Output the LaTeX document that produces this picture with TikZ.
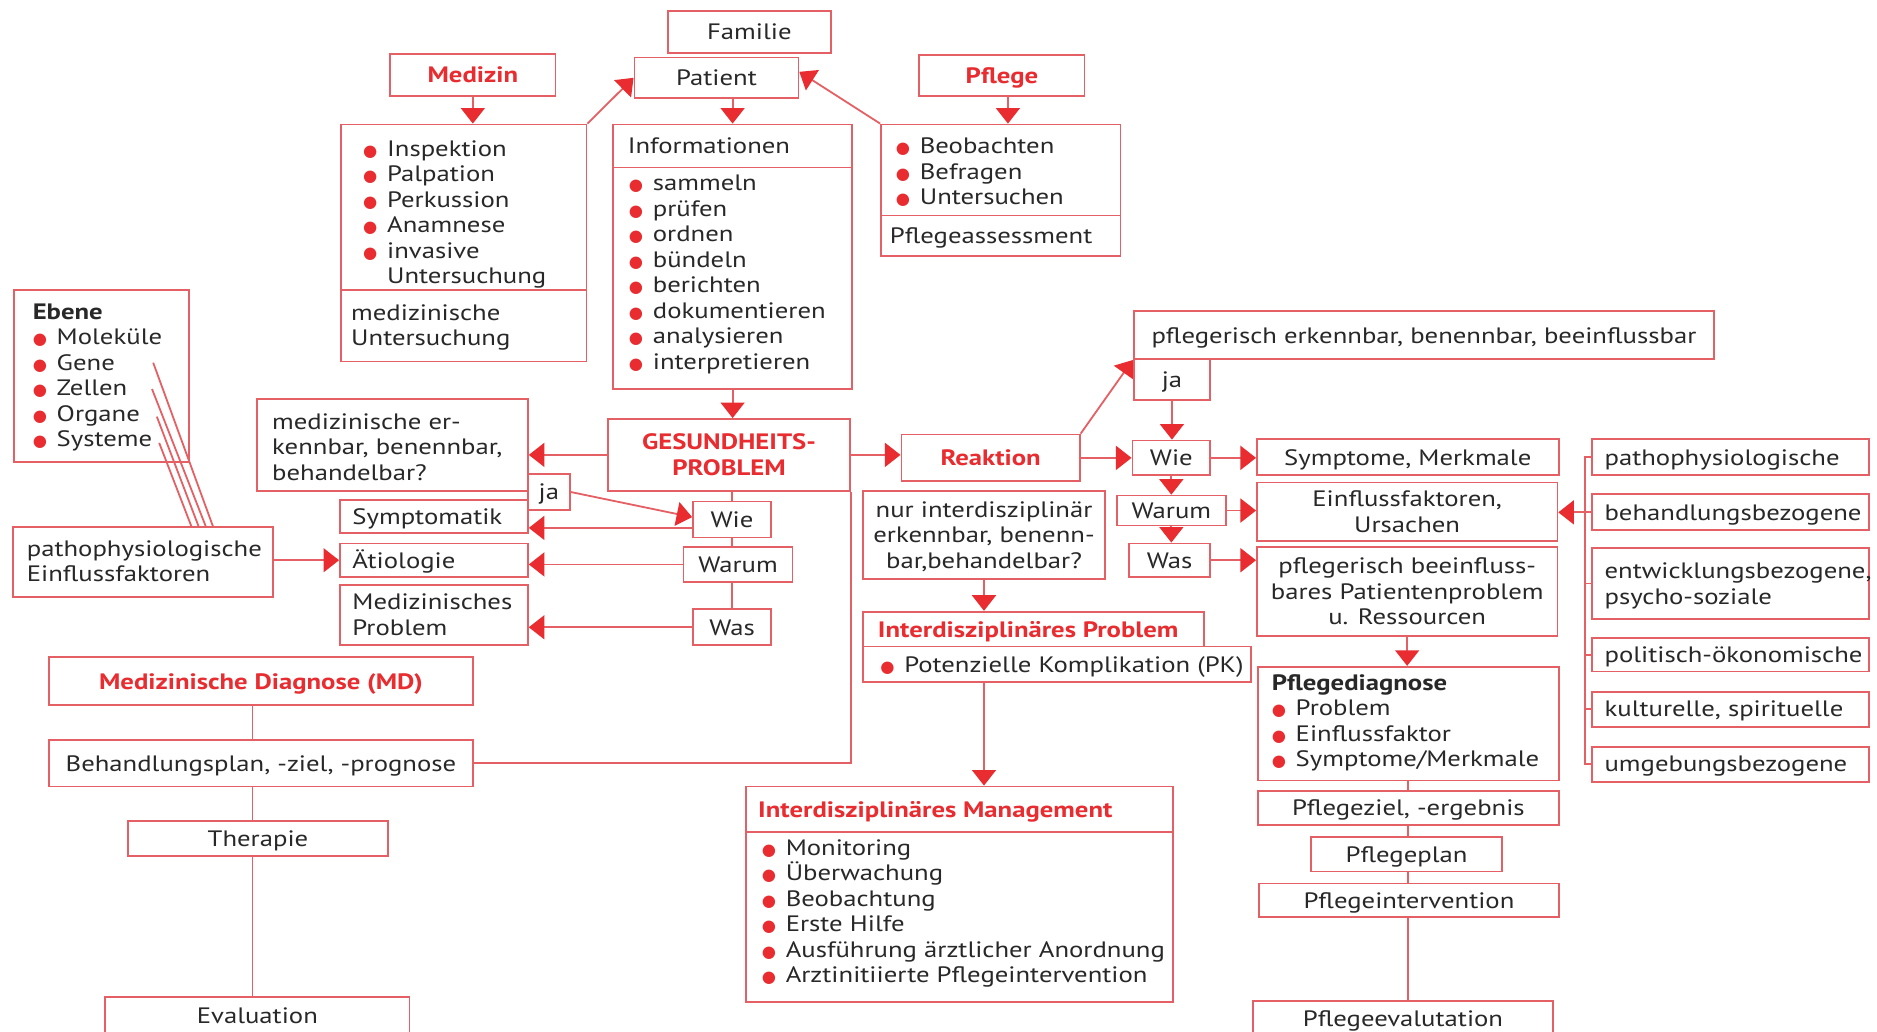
\documentclass[tikz,border=0pt]{standalone}
\usepackage{fontspec}
\setmainfont{PT Sans}[FakeStretch=1.2]
\newfontfamily\dvfont{DejaVu Sans}
\usetikzlibrary{arrows.meta,fit,backgrounds,calc}
\definecolor{pred}{RGB}{232,44,48}
\definecolor{pline}{RGB}{228,96,100}
\definecolor{ptext}{RGB}{40,40,40}
\newcommand\rb{\makebox[10pt][l]{\textcolor{pred}{\dvfont\fontsize{6.8}{6.8}\selectfont ●}}}
\newcommand\rbsp{\hspace*{10pt}}
\tikzset{
 bx/.style={draw=pline, line width=0.75pt, fill=white, inner sep=0pt},
 tt/.style={inner sep=0pt, text=ptext},
 c1/.style={tt, anchor=base, yshift=-3.3pt},
 c2/.style={tt, anchor=base, align=center, yshift=-8.6pt},
 c3/.style={tt, anchor=base, align=center, yshift=-13.95pt},
 tx/.style={tt, anchor=base west, align=left, yshift=-0.75pt},
 rt/.style={text=pred, font=\fontsize{9.3}{10.65}\selectfont\bfseries},
 ar/.style={draw=pline, line width=0.75pt, -{Triangle[length=6.5pt,width=10pt,color=pred]}},
 ln/.style={draw=pline, line width=0.75pt},
}
\begin{document}
\begin{tikzpicture}[x=0.5pt,y=-0.5pt, font=\fontsize{9.3}{10.65}\selectfont]
\useasboundingbox (0,0) rectangle (1568,862);
% top
\node[bx, fit={(558,9)(694,44)}] (fam) {};
\node[c1] (tfam) at (fam.center) {Familie};
\node[bx, fit={(530,48)(667,82)}] (pat) {};
\node[c1] (tpat) at (pat.center) {Patient};
\node[bx, fit={(326,45)(464,80)}] (med) {};
\node[c1, rt] (tmed) at (med.center) {Medizin};
\node[bx, fit={(768,46)(906,80)}] (pfl) {};
\node[c1, rt] (tpfl) at (pfl.center) {Pflege};
\node[bx, fit={(285,104)(490,242)}] (medA) {};
\node[bx, fit={(285,242)(490,302)}] (medB) {};
\node[tx] (tmedA) at (303,235.5) {\rb Inspektion\\\rb Palpation\\\rb Perkussion\\\rb Anamnese\\\rb invasive\\\rbsp Untersuchung};
\node[tx] (tmedB) at (293,287.3) {medizinische\\Untersuchung};
\node[bx, fit={(512,104)(712,140)}] (infA) {};
\node[bx, fit={(512,140)(712,325)}] (infB) {};
\node[tx] (tinfA) at (524,127) {Informationen};
\node[tx] (tinfB) at (525,307.1) {\rb sammeln\\\rb prüfen\\\rb ordnen\\\rb bündeln\\\rb berichten\\\rb dokumentieren\\\rb analysieren\\\rb interpretieren};
\node[bx, fit={(736,104)(936,180)}] (pflA) {};
\node[bx, fit={(736,180)(936,214)}] (pflB) {};
\node[tx] (tpflA) at (748,169.6) {\rb Beobachten\\\rb Befragen\\\rb Untersuchen};
\node[tx] (tpflB) at (743,202) {Pflegeassessment};
% left middle
\node[bx, fit={(12,242)(158,386)}] (eb) {};
\node[tx] (teb) at (27,371.5) {\textbf{Ebene}\\\rb Moleküle\\\rb Gene\\\rb Zellen\\\rb Organe\\\rb Systeme};
\node[bx, fit={(11,440)(228,499)}] (patl) {};
\node[tx] (tpatl) at (22,484.3) {pathophysiologische\\Einflussfaktoren};
\node[bx, fit={(215,333)(441,410)}] (mer) {};
\node[tx] (tmer) at (227,399.6) {medizinische er-\\kennbar, benennbar,\\behandelbar?};
\node[bx, fit={(441,396)(476,426)}] (jal) {};
\node[c1] (tjal) at (jal.center) {ja};
\node[bx, fit={(284,418)(441,445)}] (sym) {};
\node[tx] (tsym) at (294,437) {Symptomatik};
\node[bx, fit={(284,454)(441,482)}] (aet) {};
\node[tx] (taet) at (294,473) {Ätiologie};
\node[bx, fit={(284,489)(441,539)}] (mp) {};
\node[tx] (tmp) at (294,529.3) {Medizinisches\\Problem};
\node[bx, fit={(579,419)(644,449)}] (wiel) {};
\node[c1] (twiel) at (wiel.center) {Wie};
\node[bx, fit={(571,457)(662,486)}] (warl) {};
\node[c1] (twarl) at (warl.center) {Warum};
\node[bx, fit={(579,509)(644,539)}] (wasl) {};
\node[c1] (twasl) at (wasl.center) {Was};
\node[bx, fit={(508,350)(710,410)}] (ges) {};
\node[c2, rt] (tges) at (ges.center) {GESUNDHEITS-\\PROBLEM};
% right middle
\node[bx, fit={(753,363)(902,402)}] (rea) {};
\node[c1, rt] (trea) at (rea.center) {Reaktion};
\node[bx, fit={(947,260)(1432,300)}] (perk) {};
\node[c1] (tperk) at (perk.center) {pflegerisch erkennbar, benennbar, beeinflussbar};
\node[bx, fit={(947,300)(1011,334)}] (jar) {};
\node[c1] (tjar) at (jar.center) {ja};
\node[bx, fit={(946,368)(1011,397)}] (wier) {};
\node[c1] (twier) at (wier.center) {Wie};
\node[bx, fit={(933,414)(1024,439)}] (warr) {};
\node[c1] (twarr) at (warr.center) {Warum};
\node[bx, fit={(943,454)(1011,482)}] (wasr) {};
\node[c1] (twasr) at (wasr.center) {Was};
\node[bx, fit={(1050,367)(1302,397)}] (smm) {};
\node[c1] (tsmm) at (smm.center) {Symptome, Merkmale};
\node[bx, fit={(1050,403)(1301,452)}] (einf) {};
\node[c2] (teinf) at (einf.center) {Einflussfaktoren,\\Ursachen};
\node[bx, fit={(1050,457)(1301,531)}] (pbe) {};
\node[c3] (tpbe) at (pbe.center) {pflegerisch beeinfluss-\\bares Patientenproblem\\u. Ressourcen};
\node[bx, fit={(1051,557)(1302,652)}] (pd) {};
\node[tx] (tpd) at (1062,638.9) {\textbf{Pflegediagnose}\\\rb Problem\\\rb Einflussfaktor\\\rb Symptome/Merkmale};
\node[bx, fit={(1051,661)(1302,689)}] (pz) {};
\node[c1] (tpz) at (pz.center) {Pflegeziel, -ergebnis};
\node[bx, fit={(1095,699)(1255,728)}] (pp) {};
\node[c1] (tpp) at (pp.center) {Pflegeplan};
\node[bx, fit={(1052,738)(1302,766)}] (pi) {};
\node[c1] (tpi) at (pi.center) {Pflegeintervention};
\node[bx, fit={(1047,836)(1297,872)}] (pe) {};
\node[c1] (tpe) at (1172,851) {Pflegeevalutation};
\node[bx, fit={(721,410)(923,484)}] (nur) {};
\node[c3] (tnur) at (nur.center) {nur interdisziplinär\\erkennbar, benenn-\\bar,behandelbar?};
\node[bx, fit={(721,511)(1006,540)}] (ip) {};
\node[tx, rt] (tip) at (733,531) {Interdisziplinäres Problem};
\node[bx, fit={(721,540)(1045,570)}] (pk) {};
\node[tx] (tpk) at (735,560) {\rb Potenzielle Komplikation (PK)};
\node[bx, fit={(623,657)(980,695)}] (ima) {};
\node[tx, rt] (tima) at (633,681) {Interdisziplinäres Management};
\node[bx, fit={(623,695)(980,837)}] (imb) {};
\node[tx] (timb) at (636,819.5) {\rb Monitoring\\\rb Überwachung\\\rb Beobachtung\\\rb Erste Hilfe\\\rb Ausführung ärztlicher Anordnung\\\rb Arztinitiierte Pflegeintervention};
% bottom left
\node[bx, fit={(41,549)(395,589)}] (md) {};
\node[c1, rt] (tmd) at (md.center) {Medizinische Diagnose (MD)};
\node[bx, fit={(41,618)(395,657)}] (bp) {};
\node[c1] (tbp) at (bp.center) {Behandlungsplan, -ziel, -prognose};
\node[bx, fit={(107,686)(324,715)}] (th) {};
\node[c1] (tth) at (th.center) {Therapie};
\node[bx, fit={(88,833)(342,872)}] (ev) {};
\node[c1] (tev) at (215,848) {Evaluation};
% right column
\node[bx, fit={(1330,367)(1561,397)}] (r1) {};
\node[tx] (tr1) at (1340,387) {pathophysiologische};
\node[bx, fit={(1330,413)(1561,443)}] (r2) {};
\node[tx] (tr2) at (1340,433) {behandlungsbezogene};
\node[bx, fit={(1330,458)(1561,517)}] (r3) {};
\node[tx] (tr3) at (1340,503.3) {entwicklungsbezogene,\\psycho-soziale};
\node[bx, fit={(1330,533)(1561,561)}] (r4) {};
\node[tx] (tr4) at (1340,552) {politisch-ökonomische};
\node[bx, fit={(1330,578)(1561,607)}] (r5) {};
\node[tx] (tr5) at (1340,597) {kulturelle, spirituelle};
\node[bx, fit={(1330,624)(1561,653)}] (r6) {};
\node[tx] (tr6) at (1340,643) {umgebungsbezogene};
% Ebene lines
\coordinate (e1) at (128,303); \coordinate (f1) at (178,440);
\coordinate (e2) at (127,325); \coordinate (f2) at (172,440);
\coordinate (e3) at (131,348); \coordinate (f3) at (166,440);
\coordinate (e4) at (133,370); \coordinate (f4) at (160,440);
\draw[ln] (e1) -- (f1) (e2) -- (f2) (e3) -- (f3) (e4) -- (f4);
\begin{pgfonlayer}{background}
\fill[white] (0,0) rectangle (1568,862);
\draw[ar] (med.south) -- (med.south |- medA.north);
\draw[ar] (infA.north |- pat.south) -- (infA.north);
\draw[ar] ([xshift=2.5pt]pfl.south) -- ([xshift=2.5pt]pfl.south |- pflA.north);
\draw[ar] (medA.north east) -- (pat.west);
\draw[ar] (pflA.north west) -- ([yshift=2.5pt]pat.east);
\draw[ar] (infB.south) -- (infB.south |- ges.north);
\draw[ar] (ges.west) -- (ges.west -| mer.east);
\draw[ar] (ges.east) -- (ges.east -| rea.west);
\draw[ar] (jal.east) -- ([yshift=1pt]wiel.west);
\draw[ar] ([yshift=-3.5pt]wiel.west) -- ([yshift=-3.5pt]wiel.west -| sym.east);
\draw[ar] (warl.west) -- (warl.west -| aet.east);
\draw[ar] (wasl.west) -- (wasl.west -| mp.east);
\draw[ln] (wiel.north |- ges.south) -- (wiel.north |- wasl.north);
\draw[ar] (patl.east |- aet.west) -- (aet.west);
\draw[ar] (rea.north east) -- (perk.south west);
\draw[ar] (rea.east) -- (rea.east -| wier.west);
\draw[ar] (jar.south) -- (jar.south |- wier.north);
\draw[ar] (wier.south) -- (wier.south |- warr.north);
\draw[ar] (warr.south) -- (warr.south |- wasr.north);
\draw[ar] (wier.east) -- (wier.east -| smm.west);
\draw[ar] (warr.east) -- (warr.east -| einf.west);
\draw[ar] (wasr.east) -- (wasr.east -| pbe.west);
\draw[ar] (pbe.south) -- (pbe.south |- pd.north);
\draw[ln] (pd.south) -- (pd.south |- pe.north);
\draw[ar] (nur.south) -- (nur.south |- ip.north);
\draw[ar] (nur.south |- pk.south) -- (nur.south |- ima.north);
\draw[ln] ([xshift=-3.5pt]md.south) -- ([xshift=-3.5pt]md.south |- ev.north);
\draw[ln] (bp.east) -- (bp.east -| ges.south east) -- (ges.south east);
\draw[ln] (r1.west) -- ++(-5,0) |- (r6.west);
\foreach \r in {r2,r3,r4,r5} \draw[ln] (\r.west) -- ++(-5,0);
\draw[ar] (r2.west) -- (r2.west -| einf.east);
\end{pgfonlayer}
\end{tikzpicture}
\end{document}
